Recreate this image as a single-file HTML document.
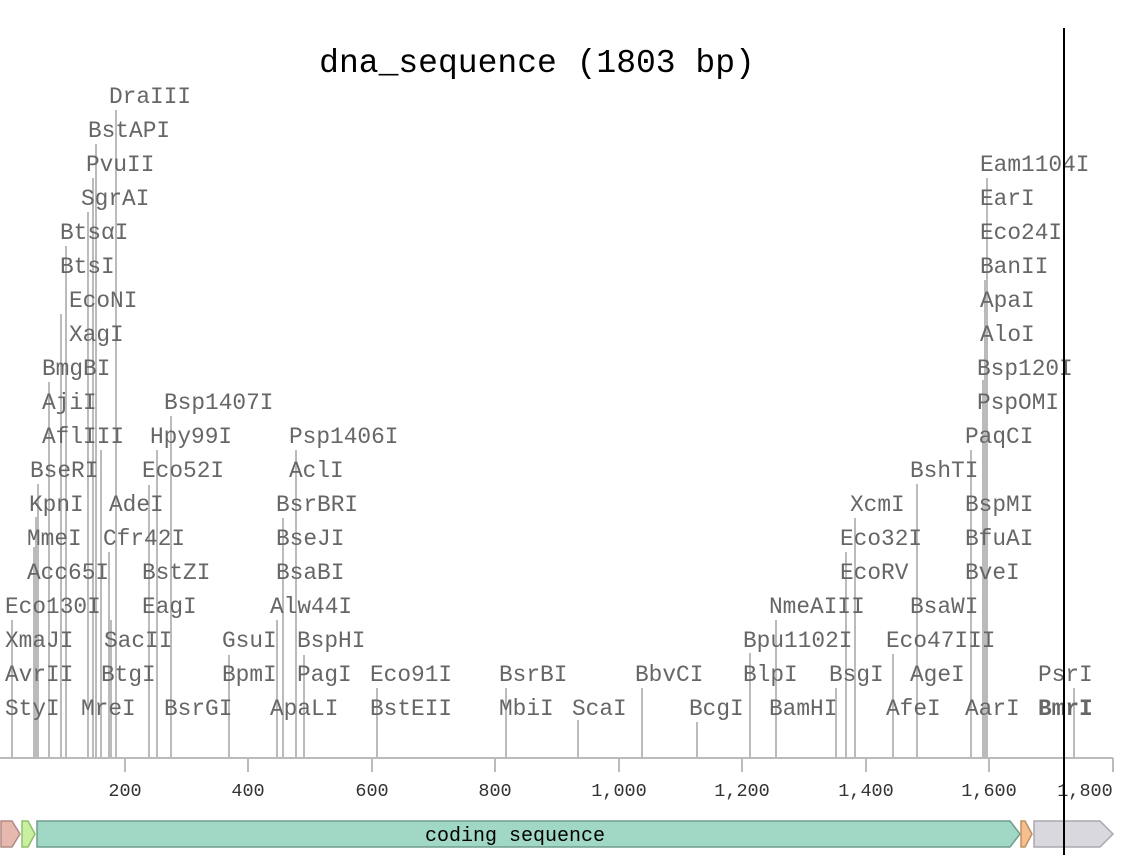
<!DOCTYPE html>
<html><head><meta charset="utf-8"><style>
html,body{margin:0;padding:0;background:#fff}
svg{display:block}
.l{font-family:"Liberation Mono","DejaVu Sans Mono",monospace;font-size:22.8px;fill:#666;dominant-baseline:central}
.t{font-family:"Liberation Mono","DejaVu Sans Mono",monospace;font-size:18.5px;fill:#333;text-anchor:middle}
</style></head><body>
<svg width="1138" height="868" viewBox="0 0 1138 868" xmlns="http://www.w3.org/2000/svg">
<text x="537" y="72" style="font-family:'Liberation Mono',monospace;font-size:33px;fill:#000" text-anchor="middle">dna_sequence (1803 bp)</text>
<g stroke="#bbb" stroke-width="2">
<line x1="12" y1="758" x2="12" y2="620"/>
<line x1="34" y1="758" x2="34" y2="547"/>
<line x1="36" y1="758" x2="36" y2="517"/>
<line x1="38" y1="758" x2="38" y2="484"/>
<line x1="49" y1="758" x2="49" y2="382"/>
<line x1="61" y1="758" x2="61" y2="314"/>
<line x1="66" y1="758" x2="66" y2="246"/>
<line x1="88" y1="758" x2="88" y2="212"/>
<line x1="93" y1="758" x2="93" y2="178"/>
<line x1="96" y1="758" x2="96" y2="144"/>
<line x1="101" y1="758" x2="101" y2="450"/>
<line x1="109" y1="758" x2="109" y2="552"/>
<line x1="111" y1="758" x2="111" y2="620"/>
<line x1="116" y1="758" x2="116" y2="110"/>
<line x1="149" y1="758" x2="149" y2="485"/>
<line x1="157" y1="758" x2="157" y2="450"/>
<line x1="171" y1="758" x2="171" y2="416"/>
<line x1="229" y1="758" x2="229" y2="655"/>
<line x1="277" y1="758" x2="277" y2="620"/>
<line x1="283" y1="758" x2="283" y2="518"/>
<line x1="296" y1="758" x2="296" y2="450"/>
<line x1="304" y1="758" x2="304" y2="655"/>
<line x1="377" y1="758" x2="377" y2="688"/>
<line x1="506" y1="758" x2="506" y2="688"/>
<line x1="578" y1="758" x2="578" y2="720"/>
<line x1="642" y1="758" x2="642" y2="688"/>
<line x1="697" y1="758" x2="697" y2="722"/>
<line x1="750" y1="758" x2="750" y2="653"/>
<line x1="776" y1="758" x2="776" y2="620"/>
<line x1="836" y1="758" x2="836" y2="688"/>
<line x1="846" y1="758" x2="846" y2="552"/>
<line x1="855" y1="758" x2="855" y2="518"/>
<line x1="893" y1="758" x2="893" y2="654"/>
<line x1="917" y1="758" x2="917" y2="484"/>
<line x1="971" y1="758" x2="971" y2="450"/>
<line x1="983" y1="758" x2="983" y2="380"/>
<line x1="985" y1="758" x2="985" y2="280"/>
<line x1="987" y1="758" x2="987" y2="178"/>
<line x1="1074" y1="758" x2="1074" y2="688"/>
<line x1="0" y1="758" x2="1113" y2="758"/>
<line x1="125" y1="758" x2="125" y2="772"/>
<line x1="248" y1="758" x2="248" y2="772"/>
<line x1="372" y1="758" x2="372" y2="772"/>
<line x1="495" y1="758" x2="495" y2="772"/>
<line x1="619" y1="758" x2="619" y2="772"/>
<line x1="742" y1="758" x2="742" y2="772"/>
<line x1="866" y1="758" x2="866" y2="772"/>
<line x1="989" y1="758" x2="989" y2="772"/>
<line x1="1113" y1="758" x2="1113" y2="772"/>
</g>
<g class="t">
<text class="t" x="125" y="796">200</text><text class="t" x="248" y="796">400</text><text class="t" x="372" y="796">600</text><text class="t" x="495" y="796">800</text><text class="t" x="619" y="796">1,000</text><text class="t" x="742" y="796">1,200</text><text class="t" x="866" y="796">1,400</text><text class="t" x="989" y="796">1,600</text><text class="t" x="1085" y="796">1,800</text>
</g>
<g class="l">
<text class="l" x="5" y="709">StyI</text><text class="l" x="81" y="709">MreI</text><text class="l" x="164" y="709">BsrGI</text><text class="l" x="270" y="709">ApaLI</text><text class="l" x="370" y="709">BstEII</text><text class="l" x="499" y="709">MbiI</text><text class="l" x="572" y="709">ScaI</text><text class="l" x="689" y="709">BcgI</text><text class="l" x="769" y="709">BamHI</text><text class="l" x="886" y="709">AfeI</text><text class="l" x="965" y="709">AarI</text><text class="l" x="1038" y="709" style="font-weight:bold">BmrI</text>
<text class="l" x="5" y="675">AvrII</text><text class="l" x="101" y="675">BtgI</text><text class="l" x="222" y="675">BpmI</text><text class="l" x="297" y="675">PagI</text><text class="l" x="370" y="675">Eco91I</text><text class="l" x="499" y="675">BsrBI</text><text class="l" x="635" y="675">BbvCI</text><text class="l" x="743" y="675">BlpI</text><text class="l" x="829" y="675">BsgI</text><text class="l" x="910" y="675">AgeI</text><text class="l" x="1038" y="675">PsrI</text>
<text class="l" x="5" y="641">XmaJI</text><text class="l" x="104" y="641">SacII</text><text class="l" x="222" y="641">GsuI</text><text class="l" x="297" y="641">BspHI</text><text class="l" x="743" y="641">Bpu1102I</text><text class="l" x="886" y="641">Eco47III</text>
<text class="l" x="5" y="607">Eco130I</text><text class="l" x="142" y="607">EagI</text><text class="l" x="270" y="607">Alw44I</text><text class="l" x="769" y="607">NmeAIII</text><text class="l" x="910" y="607">BsaWI</text>
<text class="l" x="27" y="573">Acc65I</text><text class="l" x="142" y="573">BstZI</text><text class="l" x="276" y="573">BsaBI</text><text class="l" x="840" y="573">EcoRV</text><text class="l" x="965" y="573">BveI</text>
<text class="l" x="27" y="539">MmeI</text><text class="l" x="103" y="539">Cfr42I</text><text class="l" x="276" y="539">BseJI</text><text class="l" x="840" y="539">Eco32I</text><text class="l" x="965" y="539">BfuAI</text>
<text class="l" x="29" y="505">KpnI</text><text class="l" x="109" y="505">AdeI</text><text class="l" x="276" y="505">BsrBRI</text><text class="l" x="850" y="505">XcmI</text><text class="l" x="965" y="505">BspMI</text>
<text class="l" x="30" y="471">BseRI</text><text class="l" x="142" y="471">Eco52I</text><text class="l" x="289" y="471">AclI</text><text class="l" x="910" y="471">BshTI</text>
<text class="l" x="42" y="437">AflIII</text><text class="l" x="150" y="437">Hpy99I</text><text class="l" x="289" y="437">Psp1406I</text><text class="l" x="965" y="437">PaqCI</text>
<text class="l" x="42" y="403">AjiI</text><text class="l" x="164" y="403">Bsp1407I</text><text class="l" x="977" y="403">PspOMI</text>
<text class="l" x="42" y="369">BmgBI</text><text class="l" x="977" y="369">Bsp120I</text>
<text class="l" x="69" y="335">XagI</text><text class="l" x="980" y="335">AloI</text>
<text class="l" x="69" y="301">EcoNI</text><text class="l" x="980" y="301">ApaI</text>
<text class="l" x="60" y="267">BtsI</text><text class="l" x="980" y="267">BanII</text>
<text class="l" x="60" y="233">BtsαI</text><text class="l" x="980" y="233">Eco24I</text>
<text class="l" x="81" y="199">SgrAI</text><text class="l" x="980" y="199">EarI</text>
<text class="l" x="86" y="165">PvuII</text><text class="l" x="980" y="165">Eam1104I</text>
<text class="l" x="88" y="131">BstAPI</text>
<text class="l" x="109" y="97">DraIII</text>
</g>
<g stroke-width="1.5">
<polygon points="1,821 12,821 20,834 12,847 1,847" fill="#e6b8ae" stroke="#b08a84"/>
<polygon points="22,821 28,821 35,834 28,847 22,847" fill="#c9f0a0" stroke="#8fbf6a"/>
<polygon points="37,821 1010,821 1020,834 1010,847 37,847" fill="#a0d8c5" stroke="#6d9d8a"/>
<polygon points="1021,821 1025,821 1032,834 1025,847 1021,847" fill="#f5bf8e" stroke="#c09060"/>
<polygon points="1034,821 1100,821 1113,834 1100,847 1034,847" fill="#d8d8de" stroke="#a8a8b0"/>
</g>
<text x="515" y="841" style="font-family:'Liberation Mono',monospace;font-size:20px;fill:#000" text-anchor="middle">coding sequence</text>
<line x1="1064" y1="28" x2="1064" y2="855" stroke="#000" stroke-width="2"/>
</svg>
</body></html>
